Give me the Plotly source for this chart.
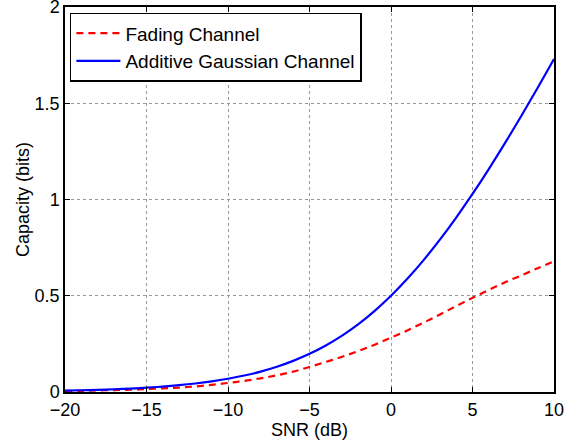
import plotly.graph_objects as go

snr_db = [-20, -19, -18, -17, -16, -15, -14, -13, -12, -11, -10, -9, -8, -7, -6, -5,
          -4, -3, -2, -1, 0, 1, 2, 3, 4, 5, 6, 7, 8, 9, 10]
awgn_capacity = [0.0072, 0.0090, 0.0113, 0.0143, 0.0179, 0.0224, 0.0281, 0.0352, 0.0441,
                 0.0551, 0.0688, 0.0855, 0.1061, 0.1312, 0.1617, 0.1982, 0.2418, 0.2930,
                 0.3528, 0.4217, 0.5000, 0.5878, 0.6851, 0.7913, 0.9061, 1.0287, 1.1582,
                 1.2939, 1.4349, 1.5804, 1.7297]
fading_capacity = [0.005, 0.006, 0.008, 0.010, 0.012, 0.015, 0.019, 0.023, 0.029, 0.037,
                   0.047, 0.058, 0.071, 0.087, 0.106, 0.130, 0.156, 0.183, 0.213, 0.246,
                   0.282, 0.320, 0.360, 0.403, 0.446, 0.489, 0.530, 0.570, 0.606, 0.643,
                   0.679]
x_ticks = [-20, -15, -10, -5, 0, 5, 10]
x_tick_labels = ["\u221220", "\u221215", "\u221210", "\u22125", "0", "5", "10"]
y_ticks = [0, 0.5, 1, 1.5, 2]
y_tick_labels = ["0", "0.5", "1", "1.5", "2"]

font = "Liberation Sans, Arial, Helvetica, sans-serif"

fig = go.Figure()
fig.add_trace(go.Scatter(x=snr_db, y=fading_capacity, mode="lines", name="Fading Channel",
                         line=dict(color="#ff0000", width=2.2, dash="7px,5px", shape="spline")))
fig.add_trace(go.Scatter(x=snr_db, y=awgn_capacity, mode="lines", name="Additive Gaussian Channel",
                         line=dict(color="#0000ff", width=2.2, shape="spline")))

axis_common = dict(showline=True, linecolor="black", linewidth=1.5, mirror="ticks",
                   ticks="inside", ticklen=5, tickcolor="black",
                   showgrid=True, gridcolor="#999999", griddash="dot", gridwidth=1,
                   zeroline=False, ticklabeloverflow="allow", automargin=False,
                   tickfont=dict(size=18, color="black", family=font))

fig.update_xaxes(range=[-20, 10], tickvals=x_ticks, ticktext=x_tick_labels,
                 ticklabelstandoff=1,
                 title=dict(text="SNR (dB)", font=dict(size=18, color="black", family=font), standoff=2),
                 **axis_common)
fig.update_yaxes(range=[0, 2], tickvals=y_ticks, ticktext=y_tick_labels,
                 title=dict(text="Capacity (bits)", font=dict(size=18, color="black", family=font), standoff=0),
                 **axis_common)

fig.update_layout(
    width=575, height=440,
    margin=dict(l=65, r=21, t=7, b=48),
    paper_bgcolor="white", plot_bgcolor="white",
    font=dict(family=font, color="black"),
    legend=dict(x=0.01, y=0.985, xanchor="left", yanchor="top",
                bgcolor="white", bordercolor="black", borderwidth=1.5,
                font=dict(size=19, color="black", family=font),
                tracegroupgap=0, itemwidth=44),
    showlegend=True,
)

fig.write_html("out.html")
